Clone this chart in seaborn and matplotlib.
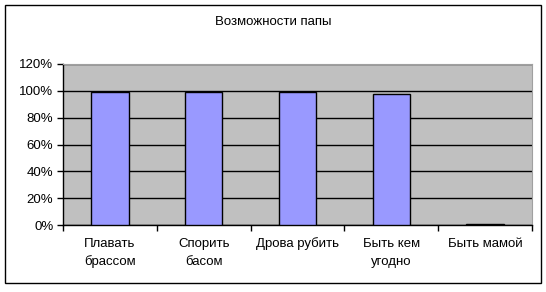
import matplotlib
matplotlib.use("Agg")
import matplotlib.pyplot as plt
import seaborn as sns
import pandas as pd
from matplotlib.patches import Rectangle
from matplotlib.ticker import FuncFormatter
import matplotlib.transforms as mtransforms

categories = ["Плавать\nбрассом", "Спорить\nбасом", "Дрова рубить", "Быть кем\nугодно", "Быть мамой"]
values = [99, 99, 99, 98, 0.5]
yticks = [0, 20, 40, 60, 80, 100, 120]
title = "Возможности папы"

sns.set_theme(style="white")
plt.rcParams['font.family'] = ['Liberation Sans', 'DejaVu Sans']

W, H = 546, 292
fig = plt.figure(figsize=(W / 100, H / 100), dpi=100)
fig.patch.set_facecolor("white")
ax = fig.add_axes([63 / W, 1 - 225 / H, (532 - 63) / W, (225 - 64) / H])

df = pd.DataFrame({"cat": categories, "val": values})
sns.barplot(data=df, x="cat", y="val", ax=ax, color="#9999FF", saturation=1,
            width=0.4, edgecolor="black", linewidth=1.0, zorder=3)

ax.set_facecolor("#C0C0C0")
ax.set_xlim(-0.5, len(categories) - 0.5)
ax.set_ylim(0, 120)
ax.set_yticks(yticks)
ax.yaxis.set_major_formatter(FuncFormatter(lambda v, p: f"{int(v)}%"))
ax.grid(axis="y", color="black", linewidth=1.0, zorder=1)
ax.grid(axis="x", visible=False)
ax.set_axisbelow(True)

# category boundary ticks; labels drawn line by line at centers
ax.set_xticks([i - 0.5 for i in range(len(categories) + 1)])
ax.set_xticklabels([""] * (len(categories) + 1))
ax.tick_params(axis="x", which="major", length=4, width=1, color="black", direction="out", bottom=True)
ax.tick_params(axis="y", length=4, width=1, color="black", direction="out", left=True,
               labelsize=9.5, labelcolor="black", pad=3)

trans = mtransforms.blended_transform_factory(ax.transData, fig.transFigure)
line_y = [244, 262]
for i, cat in enumerate(categories):
    for j, line in enumerate(cat.split("\n")):
        ax.text(i, 1 - line_y[j] / H, line, transform=trans, ha="center", va="center",
                fontsize=9.5, color="black", clip_on=False)

ax.set_xlabel("")
ax.set_ylabel("")
for s in ["left", "bottom"]:
    ax.spines[s].set_color("black")
    ax.spines[s].set_linewidth(1.0)
for s in ["top", "right"]:
    ax.spines[s].set_color("#A0A0A0")
    ax.spines[s].set_linewidth(0.8)

fig.text(273 / W, 1 - 22 / H, title, ha="center", va="center", fontsize=9.5, color="black")

fig.patches.append(Rectangle((5 / W, 1 - 283 / H), (541 - 5) / W, (283 - 5) / H,
                             transform=fig.transFigure, fill=False, edgecolor="black",
                             linewidth=1.0))

fig.savefig("out.png", dpi=100)
